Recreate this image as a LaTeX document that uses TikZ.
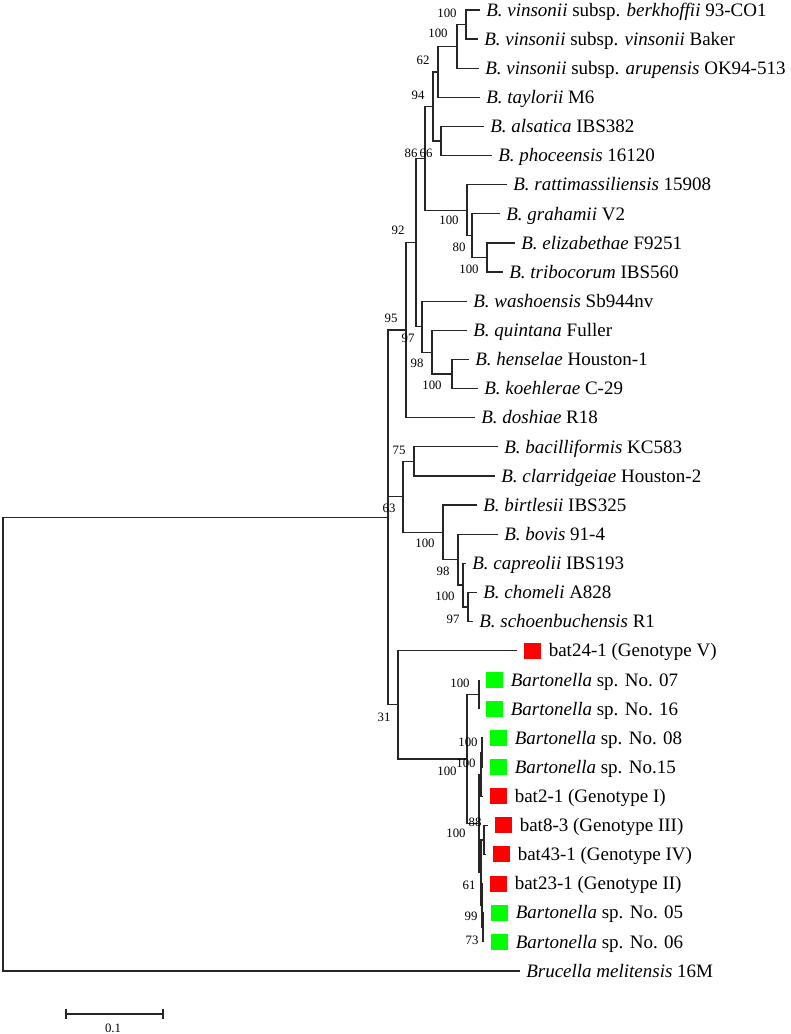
\documentclass[tikz,border=0pt]{standalone}
\usepackage{fontspec}
\setmainfont{Liberation Serif}
\usepackage{xcolor}
\usepackage{tikz}
\usetikzlibrary{positioning, calc}
\definecolor{branchgrey}{HTML}{262626}
\definecolor{batred}{HTML}{FF0000}
\definecolor{batgreen}{HTML}{00FF00}
\newcommand{\leaf}[4]{% name, row, tip x, label
  \coordinate (#1) at (#3,{10+29.12*(#2-1)});
  \node[taxon, right=4.5pt of #1] (#1-t) {#4};%
}
\newcommand{\batleaf}[5]{% name, row, tip x, colour, label
  \coordinate (#1) at (#3,{10+29.12*(#2-1)});
  \node[tag, fill=#4, right=5.25pt of #1] (#1-q) {};
  \node[taxon, right=5.25pt of #1-q] (#1-t) {#5};%
}
\newcommand{\clade}[4]{% name, x, top child, bottom child
  \path ($(#3)!.5!(#4)$) coordinate (#1-c) (#2,0) coordinate (#1-x);
  \coordinate (#1) at (#1-x |- #1-c);
  \draw[branch] (#3) -| (#1) |- (#4);%
}
\tikzset{
  branch/.style={line width=0.95pt, branchgrey},
  taxon/.style={inner sep=0pt, text height=9.4pt, text depth=0pt, font=\fontsize{14.25}{17}\selectfont},
  tag/.style={rectangle, draw=none, inner sep=0pt, minimum width=12.75pt, minimum height=12pt},
  boot/.style={inner sep=0pt, font=\fontsize{9.6}{11}\selectfont},
}

\begin{document}
\begin{tikzpicture}[x=0.75pt, y=-0.75pt]
  \useasboundingbox (0,0) rectangle (790,1034);
  % taxa
  \leaf{vbe}{1}{480}{\textit{B. vinsonii} subsp. \textit{berkhoffii} 93-CO1}
  \leaf{vvi}{2}{478}{\textit{B. vinsonii} subsp. \textit{vinsonii} Baker}
  \leaf{var}{3}{479}{\textit{B. vinsonii} subsp. \textit{arupensis} OK94-513}
  \leaf{tay}{4}{480}{\textit{B. taylorii} M6}
  \leaf{als}{5}{484}{\textit{B. alsatica} IBS382}
  \leaf{pho}{6}{492}{\textit{B. phoceensis} 16120}
  \leaf{rat}{7}{507}{\textit{B. rattimassiliensis} 15908}
  \leaf{gra}{8}{500}{\textit{B. grahamii} V2}
  \leaf{eli}{9}{515}{\textit{B. elizabethae} F9251}
  \leaf{tri}{10}{503}{\textit{B. tribocorum} IBS560}
  \leaf{was}{11}{467}{\textit{B. washoensis} Sb944nv}
  \leaf{qui}{12}{467}{\textit{B. quintana} Fuller}
  \leaf{hen}{13}{469}{\textit{B. henselae} Houston-1}
  \leaf{koe}{14}{478}{\textit{B. koehlerae} C-29}
  \leaf{dos}{15}{475}{\textit{B. doshiae} R18}
  \leaf{bac}{16}{498}{\textit{B. bacilliformis} KC583}
  \leaf{cla}{17}{495}{\textit{B. clarridgeiae} Houston-2}
  \leaf{bir}{18}{477}{\textit{B. birtlesii} IBS325}
  \leaf{bov}{19}{498}{\textit{B. bovis} 91-4}
  \leaf{cap}{20}{466}{\textit{B. capreolii} IBS193}
  \leaf{cho}{21}{477}{\textit{B. chomeli} A828}
  \leaf{sch}{22}{473}{\textit{B. schoenbuchensis} R1}
  \batleaf{b24}{23}{517}{batred}{bat24-1 (Genotype V)}
  \batleaf{n07}{24}{479}{batgreen}{\textit{Bartonella} sp. No. 07}
  \batleaf{n16}{25}{479}{batgreen}{\textit{Bartonella} sp. No. 16}
  \batleaf{n08}{26}{483}{batgreen}{\textit{Bartonella} sp. No. 08}
  \batleaf{n15}{27}{483}{batgreen}{\textit{Bartonella} sp. No.15}
  \batleaf{b2}{28}{483}{batred}{bat2-1 (Genotype I)}
  \batleaf{b8}{29}{488}{batred}{bat8-3 (Genotype III)}
  \batleaf{b43}{30}{486}{batred}{bat43-1 (Genotype IV)}
  \batleaf{b23}{31}{483}{batred}{bat23-1 (Genotype II)}
  \batleaf{n05}{32}{484}{batgreen}{\textit{Bartonella} sp. No. 05}
  \batleaf{n06}{33}{484}{batgreen}{\textit{Bartonella} sp. No. 06}
  \leaf{bru}{34}{520}{\textit{Brucella melitensis} 16M}
  % clades
  \clade{A}{466}{vbe}{vvi}
  \clade{B}{457}{A}{var}
  \clade{C}{438}{B}{tay}
  \clade{D}{441}{als}{pho}
  \clade{E}{433}{C}{D}
  \clade{J}{487}{eli}{tri}
  \clade{I}{472}{gra}{J}
  \clade{G}{467}{rat}{I}
  \clade{F}{425}{E}{G}
  \clade{N}{452}{hen}{koe}
  \clade{M}{432}{qui}{N}
  \clade{K}{422}{was}{M}
  \clade{H}{416}{F}{K}
  \clade{Hd}{406}{H}{dos}
  \clade{L}{414}{bac}{cla}
  \clade{S1}{468}{cho}{sch}
  \clade{S2}{463}{cap}{S1}
  \clade{S3}{458}{bov}{S2}
  \clade{S4}{443}{bir}{S3}
  \clade{O}{403}{L}{S4}
  \clade{Q}{479}{n07}{n16}
  \clade{X}{482}{n08}{n15}
  \clade{Y}{481}{X}{b2}
  \clade{V}{484}{b8}{b43}
  \clade{T}{483}{n05}{n06}
  \clade{U}{482}{b23}{T}
  \clade{W}{481}{V}{U}
  \clade{Z}{479}{Y}{W}
  \clade{P}{467}{Q}{Z}
  \clade{Pb}{398}{b24}{P}
  \clade{R}{388}{Hd}{Pb}
  \draw[branch] (O) -- (R |- O);
  \clade{root}{3}{R}{bru}
  % bootstrap values
  \node[boot] (bA) at (447,13) {100};
  \node[boot] (bB) at (438,33) {100};
  \node[boot] (bC) at (423,60) {62};
  \node[boot] (bE) at (418,95) {94};
  \node[boot] (bH) at (411,153) {86};
  \node[boot] (bF) at (426,153) {66};
  \node[boot] (bG) at (449,220) {100};
  \node[boot] (bI) at (459,247) {80};
  \node[boot] (bJ) at (469,269) {100};
  \node[boot] (bHd) at (398,230) {92};
  \node[boot] (bR) at (391,318) {95};
  \node[boot] (bK) at (408,338) {97};
  \node[boot] (bM) at (417,363) {98};
  \node[boot] (bN) at (432,385) {100};
  \node[boot] (bL) at (399,450) {75};
  \node[boot] (bO) at (389,508) {63};
  \node[boot] (bS4) at (425,543) {100};
  \node[boot] (bS3) at (443,571) {98};
  \node[boot] (bS2) at (445,596) {100};
  \node[boot] (bS1) at (453,619) {97};
  \node[boot] (bPb) at (384,717) {31};
  \node[boot] (bQ) at (460,683) {100};
  \node[boot] (bX) at (468,742) {100};
  \node[boot] (bY) at (466,763) {100};
  \node[boot] (bP) at (447,771) {100};
  \node[boot] (bZ) at (456,833) {100};
  \node[boot] (bV) at (475,822) {88};
  \node[boot] (bU) at (469,885) {61};
  \node[boot] (bT) at (471,916) {99};
  \node[boot] (bT2) at (472,940) {73};
  % scale bar
  \coordinate (sbl) at (66,1014);
  \coordinate (sbr) at (163,1014);
  \draw[branch] (sbl) -- (sbr);
  \draw[branch] ([yshift=4.1pt]sbl) -- ([yshift=-4.1pt]sbl);
  \draw[branch] ([yshift=4.1pt]sbr) -- ([yshift=-4.1pt]sbr);
  \node[boot] (sbt) at (113,1028) {0.1};
\end{tikzpicture}
\end{document}
